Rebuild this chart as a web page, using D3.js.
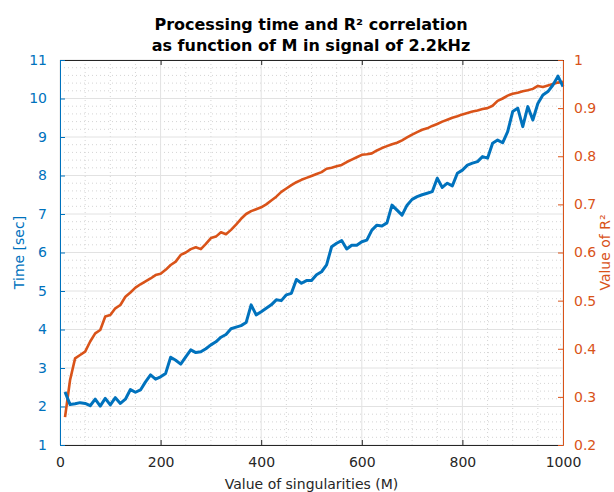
<!DOCTYPE html>
<html lang="en">
<head>
<meta charset="UTF-8">
<title>Processing time and R2</title>
<script src="https://d3js.org/d3.v7.min.js"></script>
<style>
  body { margin: 0; background: #fff; }
  svg text { font-family: "DejaVu Sans", sans-serif; }
</style>
</head>
<body>
<svg id="chart" width="614" height="492"></svg>
<script>
// singularities M
const mValues = d3.range(10, 1001, 10);

// processing time [sec]
const timeValues = [
  2.38, 2.05, 2.07, 2.10, 2.08, 2.02, 2.19, 2.01, 2.21, 2.04,
  2.23, 2.08, 2.19, 2.44, 2.37, 2.43, 2.64, 2.82, 2.71, 2.77,
  2.86, 3.28, 3.20, 3.10, 3.29, 3.47, 3.40, 3.42, 3.50, 3.60,
  3.68, 3.80, 3.87, 4.02, 4.06, 4.10, 4.18, 4.64, 4.38, 4.46,
  4.55, 4.64, 4.77, 4.75, 4.90, 4.94, 5.30, 5.20, 5.27, 5.27,
  5.42, 5.50, 5.68, 6.15, 6.24, 6.31, 6.09, 6.19, 6.19, 6.28,
  6.32, 6.58, 6.71, 6.69, 6.77, 7.23, 7.10, 6.97, 7.23, 7.38,
  7.45, 7.50, 7.54, 7.58, 7.93, 7.69, 7.80, 7.73, 8.06, 8.14,
  8.27, 8.32, 8.36, 8.49, 8.45, 8.84, 8.92, 8.85, 9.14, 9.66,
  9.75, 9.27, 9.79, 9.44, 9.87, 10.09, 10.18, 10.35, 10.58, 10.31
];

// R^2 correlation
const r2Values = [
  0.258, 0.335, 0.380, 0.387, 0.394, 0.415, 0.432, 0.439, 0.467, 0.470,
  0.484, 0.491, 0.508, 0.517, 0.527, 0.534, 0.540, 0.546, 0.553, 0.556,
  0.564, 0.574, 0.581, 0.595, 0.600, 0.607, 0.611, 0.607, 0.618, 0.630,
  0.633, 0.642, 0.638, 0.647, 0.658, 0.670, 0.680, 0.686, 0.690, 0.694,
  0.700, 0.708, 0.716, 0.726, 0.733, 0.740, 0.746, 0.751, 0.755, 0.759,
  0.763, 0.767, 0.774, 0.776, 0.779, 0.782, 0.788, 0.793, 0.798, 0.803,
  0.804, 0.806, 0.812, 0.817, 0.821, 0.825, 0.828, 0.833, 0.839, 0.845,
  0.850, 0.855, 0.858, 0.863, 0.867, 0.872, 0.876, 0.880, 0.883, 0.887,
  0.890, 0.893, 0.895, 0.898, 0.900, 0.905, 0.915, 0.920, 0.926, 0.930,
  0.932, 0.935, 0.937, 0.940, 0.946, 0.944, 0.947, 0.950, 0.953, 0.955
];

const xTicks = [0, 200, 400, 600, 800, 1000];
const timeTicks = [1, 2, 3, 4, 5, 6, 7, 8, 9, 10, 11];
const r2Ticks = [0.2, 0.3, 0.4, 0.5, 0.6, 0.7, 0.8, 0.9, 1];

const blue = "#0072BD";
const orange = "#D95319";

const svg = d3.select("#chart");
const margin = { top: 60, right: 51, bottom: 47, left: 60 };
const width = +svg.attr("width") - margin.left - margin.right;
const height = +svg.attr("height") - margin.top - margin.bottom;

const g = svg.append("g")
  .attr("transform", `translate(${margin.left},${margin.top})`);

const x = d3.scaleLinear().domain([0, 1000]).range([0, width]);
const yTime = d3.scaleLinear().domain([1, 11]).range([height, 0]);
const yR2 = d3.scaleLinear().domain([0.2, 1]).range([height, 0]);

// minor grid (dotted)
g.append("g")
  .selectAll("line")
  .data(d3.range(0, 1001, 50).filter(d => d % 200 !== 0))
  .join("line")
  .attr("x1", d => x(d)).attr("x2", d => x(d))
  .attr("y1", 0).attr("y2", height)
  .attr("stroke", "#d4d4d4").attr("stroke-width", 1)
  .attr("stroke-dasharray", "1,3");

g.append("g")
  .selectAll("line")
  .data(d3.range(1, 11.01, 0.2).filter(d => Math.abs(d - Math.round(d)) > 0.01))
  .join("line")
  .attr("x1", 0).attr("x2", width)
  .attr("y1", d => yTime(d)).attr("y2", d => yTime(d))
  .attr("stroke", "#d4d4d4").attr("stroke-width", 1)
  .attr("stroke-dasharray", "1,3");

// major grid
g.append("g")
  .selectAll("line")
  .data(xTicks)
  .join("line")
  .attr("x1", d => x(d)).attr("x2", d => x(d))
  .attr("y1", 0).attr("y2", height)
  .attr("stroke", "#e2e2e2");

g.append("g")
  .selectAll("line")
  .data(timeTicks)
  .join("line")
  .attr("x1", 0).attr("x2", width)
  .attr("y1", d => yTime(d)).attr("y2", d => yTime(d))
  .attr("stroke", "#e2e2e2");

// lines
const points = mValues.map((m, i) => ({ m: m, t: timeValues[i], r: r2Values[i] }));

g.append("path")
  .datum(points)
  .attr("fill", "none")
  .attr("stroke", orange)
  .attr("stroke-width", 2.6)
  .attr("stroke-linejoin", "round")
  .attr("d", d3.line().x(d => x(d.m)).y(d => yR2(d.r)));

g.append("path")
  .datum(points)
  .attr("fill", "none")
  .attr("stroke", blue)
  .attr("stroke-width", 3)
  .attr("stroke-linejoin", "round")
  .attr("d", d3.line().x(d => x(d.m)).y(d => yTime(d.t)));

// axes (MATLAB style: ticks point inward)
const xAxis = g.append("g")
  .attr("transform", `translate(0,${height})`)
  .call(d3.axisBottom(x).tickValues(xTicks).tickSizeInner(-5).tickSizeOuter(0).tickPadding(12)
    .tickFormat(d3.format("d")));
xAxis.select(".domain").attr("stroke", "#262626");
xAxis.selectAll("line").attr("stroke", "#262626");
xAxis.selectAll("text").attr("fill", "#262626").style("font-size", "14px");

const topAxis = g.append("g")
  .call(d3.axisTop(x).tickValues(xTicks).tickSizeInner(-5).tickSizeOuter(0).tickFormat(""));
topAxis.select(".domain").attr("stroke", "#262626");
topAxis.selectAll("line").attr("stroke", "#262626");

const leftAxis = g.append("g")
  .call(d3.axisLeft(yTime).tickValues(timeTicks).tickSizeInner(-5).tickSizeOuter(0).tickPadding(13));
leftAxis.select(".domain").attr("stroke", blue);
leftAxis.selectAll("line").attr("stroke", blue);
leftAxis.selectAll("text").attr("fill", blue).style("font-size", "14px");

const rightAxis = g.append("g")
  .attr("transform", `translate(${width},0)`)
  .call(d3.axisRight(yR2).tickValues(r2Ticks).tickSizeInner(-5).tickSizeOuter(0).tickPadding(11)
    .tickFormat(d3.format("~g")));
rightAxis.select(".domain").attr("stroke", orange);
rightAxis.selectAll("line").attr("stroke", orange);
rightAxis.selectAll("text").attr("fill", orange).style("font-size", "14px");

// labels
svg.append("text")
  .attr("x", margin.left + width / 2).attr("y", 489)
  .attr("text-anchor", "middle")
  .attr("fill", "#262626")
  .style("font-size", "14px")
  .text("Value of singularities (M)");

svg.append("text")
  .attr("transform", `translate(24,${margin.top + height / 2}) rotate(-90)`)
  .attr("text-anchor", "middle")
  .attr("fill", blue)
  .style("font-size", "14px")
  .text("Time [sec]");

svg.append("text")
  .attr("transform", `translate(610,${margin.top + height / 2}) rotate(-90)`)
  .attr("text-anchor", "middle")
  .attr("fill", orange)
  .style("font-size", "14px")
  .text("Value of R²");

const title = svg.append("text")
  .attr("text-anchor", "middle")
  .attr("fill", "#000")
  .style("font-size", "16px")
  .style("font-weight", "bold");
title.append("tspan").attr("x", 311).attr("y", 30).text("Processing time and R² correlation");
title.append("tspan").attr("x", 311).attr("y", 51).text("as function of M in signal of 2.2kHz");
</script>
</body>
</html>
